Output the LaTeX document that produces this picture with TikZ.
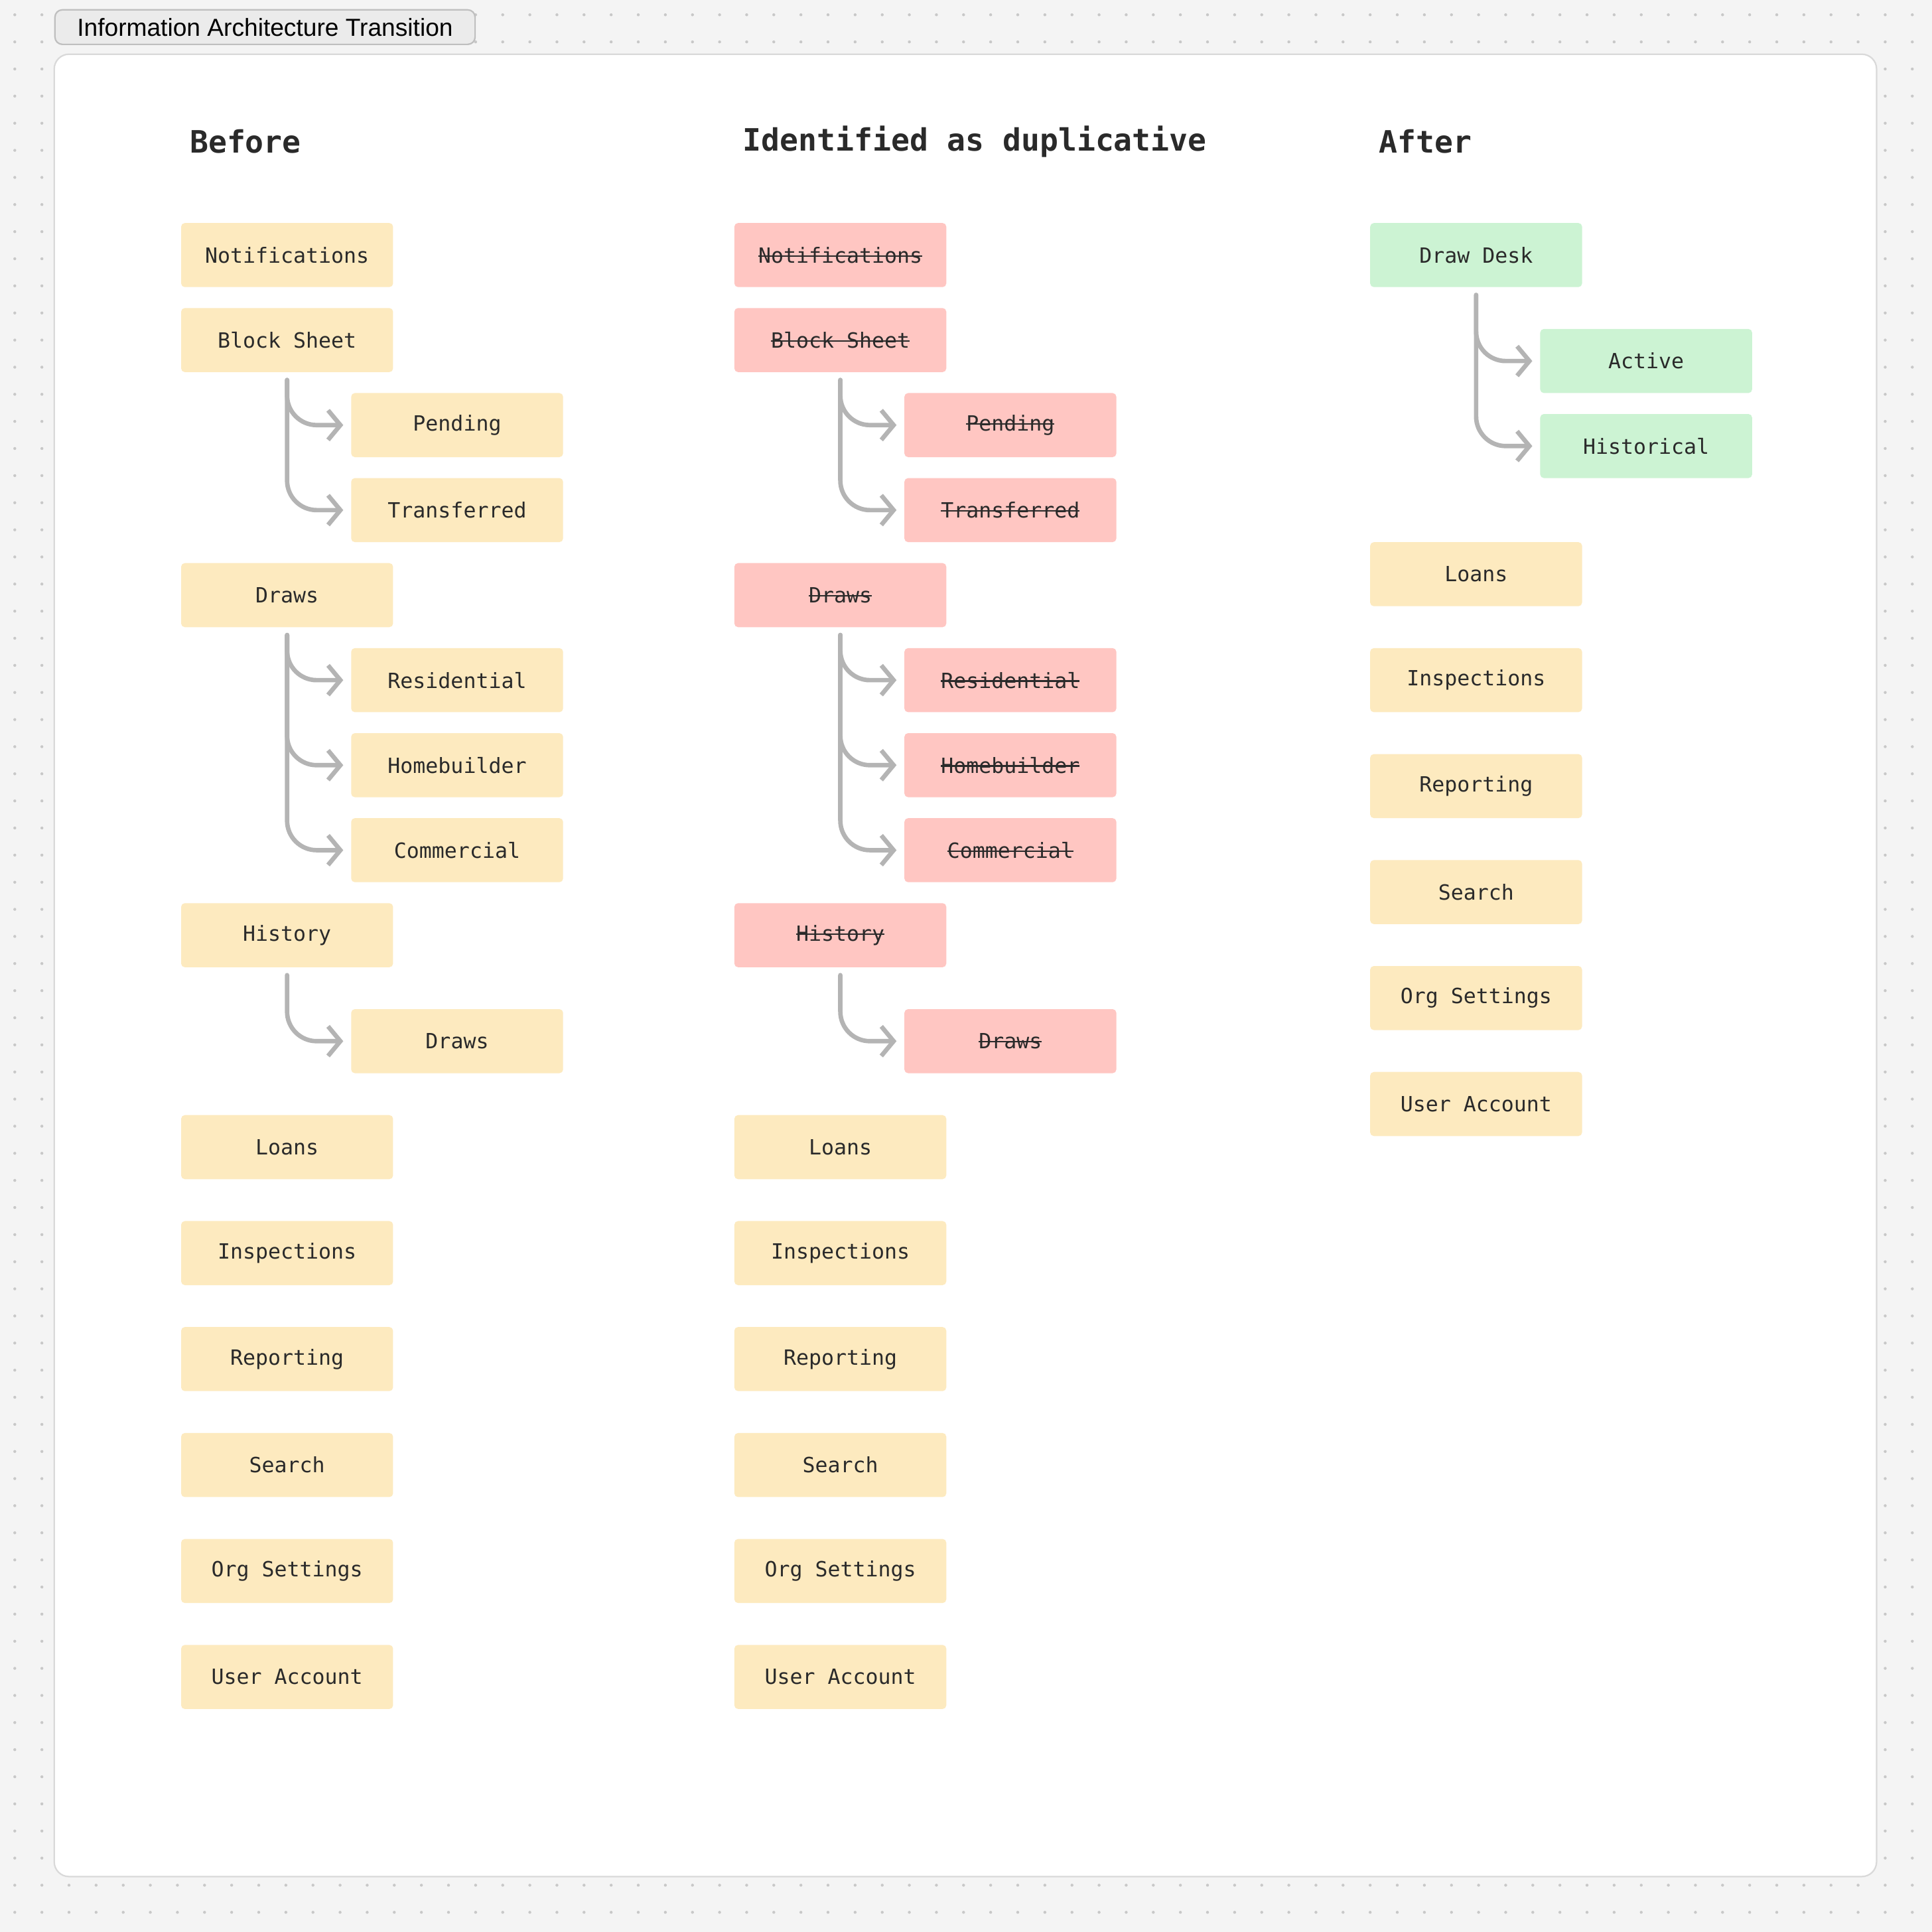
\documentclass[tikz,border=0pt]{standalone}
\usepackage{fontspec}
\setmainfont{Liberation Sans}
\setmonofont{DejaVu Sans Mono}
\usetikzlibrary{arrows.meta}
\definecolor{canvas}{HTML}{F4F4F4}
\definecolor{dotgray}{HTML}{C8C8C8}
\definecolor{keep}{HTML}{FDEABF}
\definecolor{dup}{HTML}{FFC6C2}
\definecolor{newitem}{HTML}{CCF3D3}
\definecolor{ink}{HTML}{2A2A2A}
\definecolor{branchgray}{HTML}{B4B4B4}
\tikzset{
  item/.style={rectangle, rounded corners=1.5pt, minimum width=86pt, minimum height=26pt,
    inner sep=0pt, text=ink, font=\ttfamily\fontsize{8.5}{10}\selectfont},
  keepbox/.style={item, fill=keep},
  dupbox/.style={item, fill=dup},
  newbox/.style={item, fill=newitem},
  heading/.style={anchor=west, text=ink, font=\ttfamily\bfseries\fontsize{12.5}{14}\selectfont},
  branch/.style={draw=branchgray, line width=1.8pt, line cap=round, rounded corners=12pt,
    -{Straight Barb[length=5pt,width=12pt,line width=1.8pt]}}
}
\newcommand{\dropline}[2]{\draw[branch] ([yshift=-3pt]#1.south) |- ([xshift=-3pt]#2.west);}
\newcommand{\strikeout}[1]{\setbox0\hbox{#1}\rlap{\raisebox{0.3em}{\rule{\wd0}{0.6pt}}}\box0}
\begin{document}
\begin{tikzpicture}[x=0.5pt,y=-0.5pt]
  \useasboundingbox (0,0) rectangle (1568,1568);
  % Background with dots
  \fill[canvas] (0,0) rectangle (1568,1568);
  \foreach \i in {0,...,70} {
    \foreach \j in {0,...,70} {
      \fill[dotgray] (12+\i*22,12+\j*22) circle (0.6pt);
    }
  }
  \draw[draw=black!15, fill=white, rounded corners=6pt, line width=0.6pt] (44,44) rectangle (1523,1523);
  \node[draw=black!25, fill=black!8, rounded corners=3pt, line width=0.6pt, anchor=west,
    minimum width=170.5pt, minimum height=14pt, inner xsep=4pt, font=\fontsize{10}{12}\selectfont, text=black]
    (title) at (44,22) {Information Architecture Transition\hfill};

  % Headings
  \node[heading] (hbefore) at (147,115) {Before};
  \node[heading] (hdup) at (596,115) {Identified as duplicative};
  \node[heading] (hafter) at (1112,115) {After};

  % Before
  \node[keepbox] (bnot) at (233,207) {Notifications};
  \node[keepbox] (bblock) at (233,276) {Block Sheet};
  \node[keepbox] (bpend) at (371,345) {Pending};
  \node[keepbox] (btrans) at (371,414) {Transferred};
  \node[keepbox] (bdraws) at (233,483) {Draws};
  \node[keepbox] (bres) at (371,552) {Residential};
  \node[keepbox] (bhome) at (371,621) {Homebuilder};
  \node[keepbox] (bcomm) at (371,690) {Commercial};
  \node[keepbox] (bhist) at (233,759) {History};
  \node[keepbox] (bhdraws) at (371,845) {Draws};
  \dropline{bblock}{bpend}
  \dropline{bblock}{btrans}
  \dropline{bdraws}{bres}
  \dropline{bdraws}{bhome}
  \dropline{bdraws}{bcomm}
  \dropline{bhist}{bhdraws}

  % Duplicative
  \node[dupbox] (dnot) at (682,207) {\strikeout{Notifications}};
  \node[dupbox] (dblock) at (682,276) {\strikeout{Block Sheet}};
  \node[dupbox] (dpend) at (820,345) {\strikeout{Pending}};
  \node[dupbox] (dtrans) at (820,414) {\strikeout{Transferred}};
  \node[dupbox] (ddraws) at (682,483) {\strikeout{Draws}};
  \node[dupbox] (dres) at (820,552) {\strikeout{Residential}};
  \node[dupbox] (dhome) at (820,621) {\strikeout{Homebuilder}};
  \node[dupbox] (dcomm) at (820,690) {\strikeout{Commercial}};
  \node[dupbox] (dhist) at (682,759) {\strikeout{History}};
  \node[dupbox] (dhdraws) at (820,845) {\strikeout{Draws}};
  \dropline{dblock}{dpend}
  \dropline{dblock}{dtrans}
  \dropline{ddraws}{dres}
  \dropline{ddraws}{dhome}
  \dropline{ddraws}{dcomm}
  \dropline{dhist}{dhdraws}

  % Shared items in Before and Duplicative
  \foreach \n/\t [count=\k from 0] in {loans/Loans, insp/Inspections, rep/Reporting, srch/Search, org/Org Settings, user/User Account} {
    \node[keepbox] (b\n) at (233,931+\k*86) {\t};
    \node[keepbox] (d\n) at (682,931+\k*86) {\t};
  }

  % After
  \node[newbox] (adesk) at (1198,207) {Draw Desk};
  \node[newbox] (aact) at (1336,293) {Active};
  \node[newbox] (ahist) at (1336,362) {Historical};
  \dropline{adesk}{aact}
  \dropline{adesk}{ahist}
  \foreach \n/\t [count=\k from 0] in {loans/Loans, insp/Inspections, rep/Reporting, srch/Search, org/Org Settings, user/User Account} {
    \node[keepbox] (a\n) at (1198,466+\k*86) {\t};
  }
\end{tikzpicture}
\end{document}
